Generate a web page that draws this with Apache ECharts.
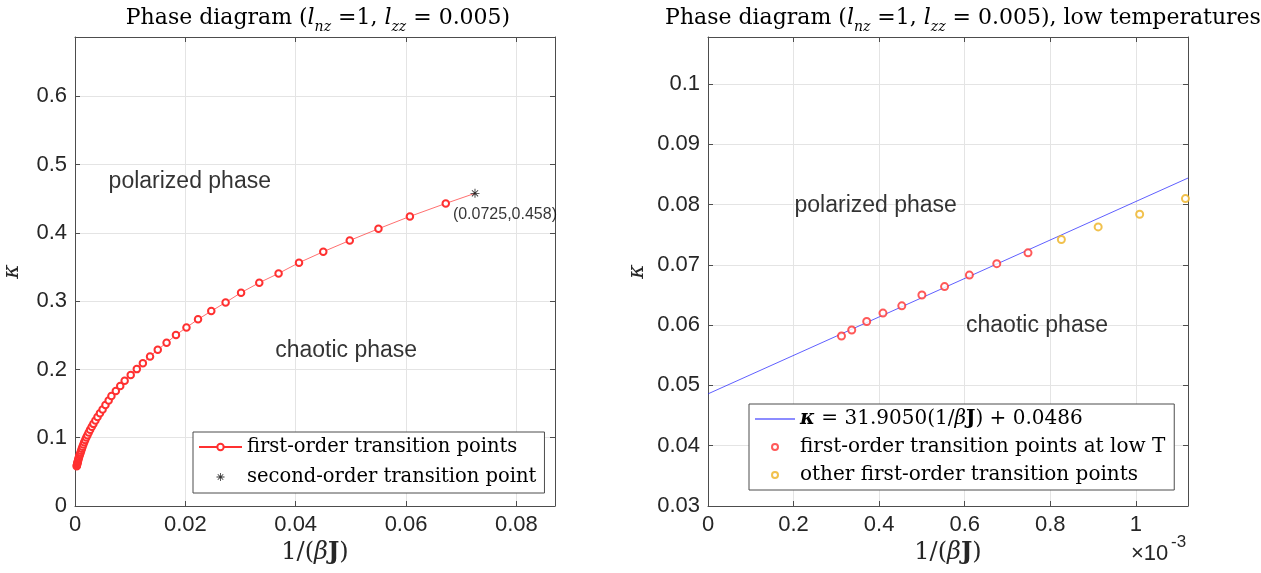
<!DOCTYPE html>
<html><head><meta charset="utf-8">
<script src="https://cdn.jsdelivr.net/npm/echarts@6/dist/echarts.min.js"></script>
<style>html,body{margin:0;padding:0;background:#fff}#c{width:1261px;height:573px}</style>
</head><body><div id="c"></div>
<script>
// ---- data (left panel: 1/(beta J) in real units) ----
const firstOrderX = [0.000312,0.000336,0.000371,0.000409,0.000453,0.000500,0.000553,0.000611,0.000675,0.000748,0.000826,0.000912,0.001009,0.001116,0.001233,0.001362,0.001506,0.001664,0.001838,0.002033,0.002247,0.002481,0.002740,0.003030,0.003340,0.003700,0.004080,0.004520,0.005000,0.005520,0.006100,0.006600,0.007400,0.008200,0.009000,0.010100,0.011200,0.012300,0.013600,0.015000,0.016600,0.018300,0.020200,0.022300,0.024700,0.027300,0.030100,0.033400,0.036900,0.040600,0.045000,0.049800,0.055000,0.060700,0.067200];
const firstOrderK = [0.0582,0.0592,0.0606,0.0620,0.0632,0.0650,0.0664,0.0683,0.0702,0.0720,0.0742,0.0763,0.0784,0.0810,0.0838,0.0868,0.0900,0.0933,0.0967,0.1003,0.1038,0.1076,0.1117,0.1160,0.1203,0.1252,0.1302,0.1358,0.1415,0.1478,0.1545,0.1611,0.1684,0.1757,0.1836,0.1920,0.2005,0.2090,0.2190,0.2290,0.2392,0.2504,0.2616,0.2734,0.2855,0.2982,0.3125,0.3271,0.3407,0.3564,0.3725,0.3890,0.4061,0.4242,0.4432];
const secondOrderX = [0.0725];
const secondOrderK = [0.458];
// ---- data (right panel: 1/(beta J) in units of 1e-3) ----
const lowTX = [0.312,0.336,0.371,0.409,0.453,0.500,0.553,0.611,0.675,0.748];
const lowTK = [0.0582,0.0592,0.0606,0.0620,0.0632,0.0650,0.0664,0.0683,0.0702,0.0720];
const otherX = [0.826,0.912,1.009,1.116];
const otherK = [0.0742,0.0763,0.0784,0.0810];
const fitX = [0, 1.122];
const fitK = [0.0486, 0.0844];
// ---- ticks ----
const leftXTicks = [0, 0.02, 0.04, 0.06, 0.08];
const leftYTicks = [0, 0.1, 0.2, 0.3, 0.4, 0.5, 0.6];
const rightXTicks = [0, 0.2, 0.4, 0.6, 0.8, 1];
const rightYTicks = [0.03, 0.04, 0.05, 0.06, 0.07, 0.08, 0.09, 0.1];
// ---- text annotations ----
const leftNotes = [[0.0060, 0.4747, 'polarized phase'], [0.0362, 0.2277, 'chaotic phase'], [0.0684, 0.427, '(0.0725,0.458)']];
const rightNotes = [[0.201, 0.0798, 'polarized phase'], [0.602, 0.0599, 'chaotic phase']];

const SERIF = 'DejaVu Serif', SANS = 'Liberation Sans';
const AX = '#4d4d4d', GRID = '#e4e4e4', TXT = '#262626';
const RED = '#ff3030', ORANGE = '#EDB120', BLUE = '#1a1aff';
const zip = (a, b) => a.map((v, i) => [v, b[i]]);
const onTick = (ticks) => (v) => {
  const t = ticks.find(x => Math.abs(x - v) < 1e-9);
  return t === undefined ? '' : String(t);
};

function axis(kind, grid, min, max, interval, pos, ticks, withLabels, extra) {
  const a = {
    type: 'value', gridIndex: grid, min, max, interval, position: pos,
    axisLine: { show: true, onZero: false, lineStyle: { color: AX, width: 1 } },
    axisTick: { show: true, inside: true, length: 5, lineStyle: { color: AX } },
    axisLabel: withLabels ? { show: true, formatter: onTick(ticks), fontFamily: SANS, fontSize: 22, color: TXT, margin: 8 } : { show: false },
    splitLine: withLabels ? { show: true, lineStyle: { color: GRID, width: 1 } } : { show: false }
  };
  return Object.assign(a, extra || {});
}
const nameStyle = {
  fontFamily: SERIF, fontSize: 24, color: TXT,
  rich: {
    b: { fontFamily: SERIF, fontSize: 24, fontWeight: 'bold', color: TXT },
    i: { fontFamily: SERIF, fontSize: 24, fontStyle: 'italic', color: TXT }
  }
};
const kNameStyle = { fontFamily: SERIF, fontSize: 22, fontStyle: 'italic', color: TXT };

const starPath = 'path://M4.5,0h1v10h-1z M0,4.5h10v1h-10z M1.2,1.9l0.7,-0.7l6.9,6.9l-0.7,0.7z M8.1,1.2l0.7,0.7l-6.9,6.9l-0.7,-0.7z';
const lineIcon = 'path://M0,0H40V1H0Z';

const titleRich = {
  n: { fontFamily: SERIF, fontSize: 22, color: '#000', lineHeight: 27, verticalAlign: 'top' },
  i: { fontFamily: SERIF, fontSize: 22, fontStyle: 'italic', color: '#000', lineHeight: 27, verticalAlign: 'top' },
  s: { fontFamily: SERIF, fontSize: 14, fontStyle: 'italic', color: '#000', lineHeight: 14, verticalAlign: 'bottom', padding: [15, 0, 0, 0] }
};
const titleText = '{n|Phase diagram (}{i|l}{s|nz}{n| =1, }{i|l}{s|zz}{n| = 0.005)}';

const legendRich = {
  b: { fontFamily: SERIF, fontSize: 20, fontWeight: 'bold', color: '#000', lineHeight: 20 },
  bi: { fontFamily: SERIF, fontSize: 20, fontWeight: 'bold', fontStyle: 'italic', color: '#000', lineHeight: 20 },
  i: { fontFamily: SERIF, fontSize: 20, fontStyle: 'italic', color: '#000', lineHeight: 20 }
};
const FIT_NAME = 'κ = 31.9050(1/βJ) + 0.0486';
const legendLabels = {};
legendLabels[FIT_NAME] = '{bi|κ} = 31.9050(1/{i|β}{b|J}) + 0.0486';

function notes(arr, xi, yi) {
  return {
    type: 'scatter', xAxisIndex: xi, yAxisIndex: yi, silent: true, symbolSize: 1,
    itemStyle: { color: 'rgba(0,0,0,0)' },
    data: arr.map(n => ({ value: [n[0], n[1]], name: n[2], label: n[2].startsWith('(') ? { fontSize: 16 } : {} })),
    label: { show: true, position: 'right', distance: 0, formatter: p => p.name, fontFamily: SANS, fontSize: 23, color: '#000' },
    z: 5
  };
}

const firstData = zip(firstOrderX, firstOrderK).map(v => ({ value: v }));
firstData.push({ value: [secondOrderX[0], secondOrderK[0]], symbol: 'none' });

const option = {
  animation: false,
  backgroundColor: '#fff',
  title: [
    { text: titleText, left: 313, top: 2, textAlign: 'center', textStyle: { fontFamily: SERIF, fontSize: 22, fontWeight: 'normal', color: '#000', rich: titleRich } },
    { text: titleText.replace('0.005)}', '0.005), low temperatures}'), left: 958, top: 2, textAlign: 'center', textStyle: { fontFamily: SERIF, fontSize: 22, fontWeight: 'normal', color: '#000', rich: titleRich } }
  ],
  grid: [
    { left: 74, top: 37, width: 481, height: 469 },
    { left: 708, top: 37, width: 480, height: 469 }
  ],
  xAxis: [
    axis('x', 0, 0, 0.087, 0.02, 'bottom', leftXTicks, true, { name: '1/({i|β}{b|J})', nameLocation: 'middle', nameGap: 30, nameTextStyle: nameStyle }),
    axis('x', 0, 0, 0.087, 0.02, 'top', leftXTicks, false),
    axis('x', 1, 0, 1.122, 0.2, 'bottom', rightXTicks, true, { name: '1/({i|β}{b|J})', nameLocation: 'middle', nameGap: 30, nameTextStyle: nameStyle }),
    axis('x', 1, 0, 1.122, 0.2, 'top', rightXTicks, false)
  ],
  yAxis: [
    axis('y', 0, 0, 0.687, 0.1, 'left', leftYTicks, true, { name: 'κ', nameLocation: 'middle', nameGap: 52, nameTextStyle: kNameStyle }),
    axis('y', 0, 0, 0.687, 0.1, 'right', leftYTicks, false),
    axis('y', 1, 0.03, 0.1078, 0.01, 'left', rightYTicks, true, { name: 'κ', nameLocation: 'middle', nameGap: 60, nameTextStyle: kNameStyle }),
    axis('y', 1, 0.03, 0.1078, 0.01, 'right', rightYTicks, false)
  ],
  legend: [
    {
      data: ['first-order transition points', 'second-order transition point'],
      orient: 'vertical', left: 193, top: 432, padding: [5, 8, 6, 5], itemGap: 10,
      itemWidth: 43, itemHeight: 8, borderColor: AX, borderWidth: 1, backgroundColor: '#fff',
      textStyle: { fontFamily: SERIF, fontSize: 19.5, color: '#000', lineHeight: 20 },
      selectedMode: false
    },
    {
      data: [{ name: FIT_NAME, icon: lineIcon }, 'first-order transition points at low T', 'other first-order transition points'],
      orient: 'vertical', left: 749, top: 404, padding: [5, 9, 5, 6], itemGap: 8,
      itemWidth: 40, itemHeight: 6, borderColor: AX, borderWidth: 1, backgroundColor: '#fff',
      formatter: n => legendLabels[n] || n,
      textStyle: { fontFamily: SERIF, fontSize: 20, color: '#000', lineHeight: 20, rich: legendRich },
      selectedMode: false
    }
  ],
  graphic: [
    { type: 'text', left: 1131, top: 543, style: { text: '×10', fontFamily: SANS, fontSize: 22, fill: TXT } },
    { type: 'text', left: 1171, top: 534, style: { text: '-3', fontFamily: SANS, fontSize: 17, fill: TXT } }
  ],
  series: [
    {
      name: 'first-order transition points', type: 'line', xAxisIndex: 0, yAxisIndex: 0,
      data: firstData, symbol: 'emptyCircle', symbolSize: 6.5,
      lineStyle: { color: RED, width: 0.7 }, itemStyle: { color: RED, borderWidth: 0.6 }, z: 3
    },
    {
      name: 'second-order transition point', type: 'scatter', xAxisIndex: 0, yAxisIndex: 0,
      data: zip(secondOrderX, secondOrderK), symbol: starPath, symbolSize: 9,
      itemStyle: { color: '#000' }, z: 4
    },
    notes(leftNotes, 0, 0),
    {
      name: FIT_NAME, type: 'line', xAxisIndex: 2, yAxisIndex: 2,
      data: zip(fitX, fitK), symbol: 'none', lineStyle: { color: BLUE, width: 0.7 }, itemStyle: { color: BLUE }, z: 2
    },
    {
      name: 'first-order transition points at low T', type: 'scatter', xAxisIndex: 2, yAxisIndex: 2,
      data: zip(lowTX, lowTK), symbol: 'emptyCircle', symbolSize: 7,
      itemStyle: { color: RED, borderWidth: 0.6 }, z: 3
    },
    {
      name: 'other first-order transition points', type: 'scatter', xAxisIndex: 2, yAxisIndex: 2,
      data: zip(otherX, otherK), symbol: 'emptyCircle', symbolSize: 7,
      itemStyle: { color: ORANGE, borderWidth: 0.6 }, z: 3
    },
    notes(rightNotes, 2, 2)
  ]
};
const chart = echarts.init(document.getElementById('c'), null, { renderer: 'canvas' });
chart.setOption(option);
</script></body></html>
